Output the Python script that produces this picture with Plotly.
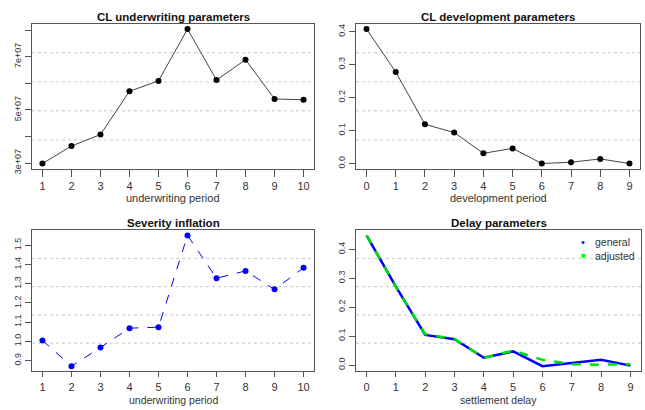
import plotly.graph_objects as go

# ---- data ----
uw_period = [1, 2, 3, 4, 5, 6, 7, 8, 9, 10]
cl_underwriting = [2.98e7, 3.64e7, 4.07e7, 5.70e7, 6.09e7, 8.04e7, 6.12e7, 6.89e7, 5.41e7, 5.38e7]
dev_period = [0, 1, 2, 3, 4, 5, 6, 7, 8, 9]
cl_development = [0.408, 0.278, 0.119, 0.094, 0.031, 0.046, 0.000, 0.004, 0.014, 0.000]
severity_inflation = [1.005, 0.871, 0.968, 1.069, 1.074, 1.552, 1.329, 1.367, 1.271, 1.383]
settle_delay = [0, 1, 2, 3, 4, 5, 6, 7, 8, 9]
delay_general = [0.448, 0.271, 0.104, 0.089, 0.025, 0.047, -0.004, 0.007, 0.018, -0.002]
delay_adjusted = [0.448, 0.270, 0.107, 0.090, 0.025, 0.050, 0.018, 0.003, 0.001, 0.003]

uw_yticks = [3e7, 4e7, 5e7, 6e7, 7e7, 8e7]
uw_yticktext = ["3e+07", "", "5e+07", "", "7e+07", ""]
dev_yticks = [0.0, 0.1, 0.2, 0.3, 0.4]
dev_yticktext = ["0.0", "0.1", "0.2", "0.3", "0.4"]
sev_yticks = [0.9, 1.0, 1.1, 1.2, 1.3, 1.4, 1.5]
sev_yticktext = ["0.9", "1.0", "1.1", "1.2", "1.3", "1.4", "1.5"]
delay_yticks = [0.0, 0.1, 0.2, 0.3, 0.4]
delay_yticktext = ["0.0", "0.1", "0.2", "0.3", "0.4"]

titles = ["CL underwriting parameters", "CL development parameters",
          "Severity inflation", "Delay parameters"]
xtitles = ["underwriting period", "development period",
           "underwriting period", "settlement delay"]
legend_names = ["general", "adjusted"]


def rng(*series):
    vals = [v for s in series for v in s]
    lo, hi = min(vals), max(vals)
    d = (hi - lo) * 0.04
    return [lo - d, hi + d]


W, H = 645, 410
boxes = [  # left, right, top, bottom in px
    (32, 314, 24, 171),
    (356, 640, 24, 171),
    (32, 314, 233, 376),
    (356, 641, 233, 376),
]
xtitle_off = [29, 29, 28.5, 28.5]
xticklen = [7, 7, 5, 5]
xtitle_size = [11, 11, 10.5, 10.5]

FONT = "Liberation Sans, Arial, sans-serif"
AX = "#555555"
TXT = "#333333"

fig = go.Figure()

fig.add_trace(go.Scatter(x=uw_period, y=cl_underwriting, mode="lines+markers",
                         line=dict(color="#444444", width=1),
                         marker=dict(color="black", size=6), showlegend=False,
                         xaxis="x", yaxis="y"))
fig.add_trace(go.Scatter(x=dev_period, y=cl_development, mode="lines+markers",
                         line=dict(color="#444444", width=1),
                         marker=dict(color="black", size=6), showlegend=False,
                         xaxis="x2", yaxis="y2"))
fig.add_trace(go.Scatter(x=uw_period, y=severity_inflation, mode="lines+markers",
                         line=dict(color="#0000ff", width=1, dash="dash"),
                         marker=dict(color="#0000ff", size=6), showlegend=False,
                         xaxis="x3", yaxis="y3"))
fig.add_trace(go.Scatter(x=settle_delay, y=delay_general, mode="lines",
                         line=dict(color="#0000ff", width=2.5), showlegend=False,
                         xaxis="x4", yaxis="y4"))
fig.add_trace(go.Scatter(x=settle_delay, y=delay_adjusted, mode="lines",
                         line=dict(color="#00e000", width=2.5, dash="dash"),
                         showlegend=False, xaxis="x4", yaxis="y4"))

xranges = [rng(uw_period), rng(dev_period), rng(uw_period), rng(settle_delay)]
yranges = [rng(cl_underwriting), rng(cl_development), rng(severity_inflation),
           rng(delay_general, delay_adjusted)]
xticks = [uw_period, dev_period, uw_period, settle_delay]
yticks = [(uw_yticks, uw_yticktext), (dev_yticks, dev_yticktext),
          (sev_yticks, sev_yticktext), (delay_yticks, delay_yticktext)]

layout = dict(width=W, height=H, margin=dict(l=0, r=0, t=0, b=0),
              paper_bgcolor="white", plot_bgcolor="white",
              font=dict(family=FONT, color=TXT), showlegend=False)
shapes = []
annotations = []
for i, (l, r, t, b) in enumerate(boxes):
    n = "" if i == 0 else str(i + 1)
    xd = [l / W, r / W]
    yd = [1 - b / H, 1 - t / H]
    layout["xaxis" + n] = dict(domain=xd, range=xranges[i], anchor="y" + n,
                               showline=True, mirror=True, linecolor=AX, linewidth=1,
                               ticks="outside", ticklen=xticklen[i], tickcolor=AX,
                               tickvals=xticks[i], showgrid=False, zeroline=False,
                               tickfont=dict(size=11, color=TXT, family=FONT))
    layout["yaxis" + n] = dict(domain=yd, range=yranges[i], anchor="x" + n,
                               showline=True, mirror=True, linecolor=AX, linewidth=1,
                               ticks="outside", ticklen=6, tickcolor=AX,
                               tickvals=yticks[i][0], ticktext=yticks[i][1],
                               tickangle=-90, showgrid=False, zeroline=False,
                               tickfont=dict(size=9, color=TXT, family=FONT))
    for f in (0.2, 0.4, 0.6, 0.8):
        shapes.append(dict(type="line", xref="x" + n + " domain", yref="y" + n + " domain",
                           x0=0, x1=1, y0=f, y1=f, layer="below",
                           line=dict(color="#c8c8c8", width=1, dash="dot")))
    annotations.append(dict(text="<b>" + titles[i] + "</b>", xref="x" + n + " domain",
                            yref="paper", x=0.5, y=1 - (t - 7) / H, showarrow=False,
                            xanchor="center", yanchor="middle",
                            font=dict(size=11.5, color="#111111", family=FONT)))
    annotations.append(dict(text=xtitles[i], xref="x" + n + " domain",
                            yref="paper", x=0.5, y=1 - (b + xtitle_off[i]) / H,
                            showarrow=False, xanchor="center", yanchor="middle",
                            font=dict(size=xtitle_size[i], color=TXT, family=FONT)))

# legend for panel 4
leg = [(legend_names[0], "•", "#0000ff", 0.915, 11),
       (legend_names[1], "■", "#00ff00", 0.820, 8)]
for name, sym, col, yy, ss in leg:
    annotations.append(dict(text=sym, xref="x4 domain", yref="y4 domain", x=0.797, y=yy,
                            showarrow=False, xanchor="center", yanchor="middle",
                            font=dict(size=ss, color=col, family=FONT)))
    annotations.append(dict(text=name, xref="x4 domain", yref="y4 domain", x=0.832, y=yy,
                            showarrow=False, xanchor="left", yanchor="middle",
                            font=dict(size=10.5, color=TXT, family=FONT)))

layout["shapes"] = shapes
layout["annotations"] = annotations
fig.update_layout(**layout)
fig.write_html("out.html", config={"displayModeBar": False},
               post_script="document.body.style.margin='0';document.body.style.overflow='hidden';")
